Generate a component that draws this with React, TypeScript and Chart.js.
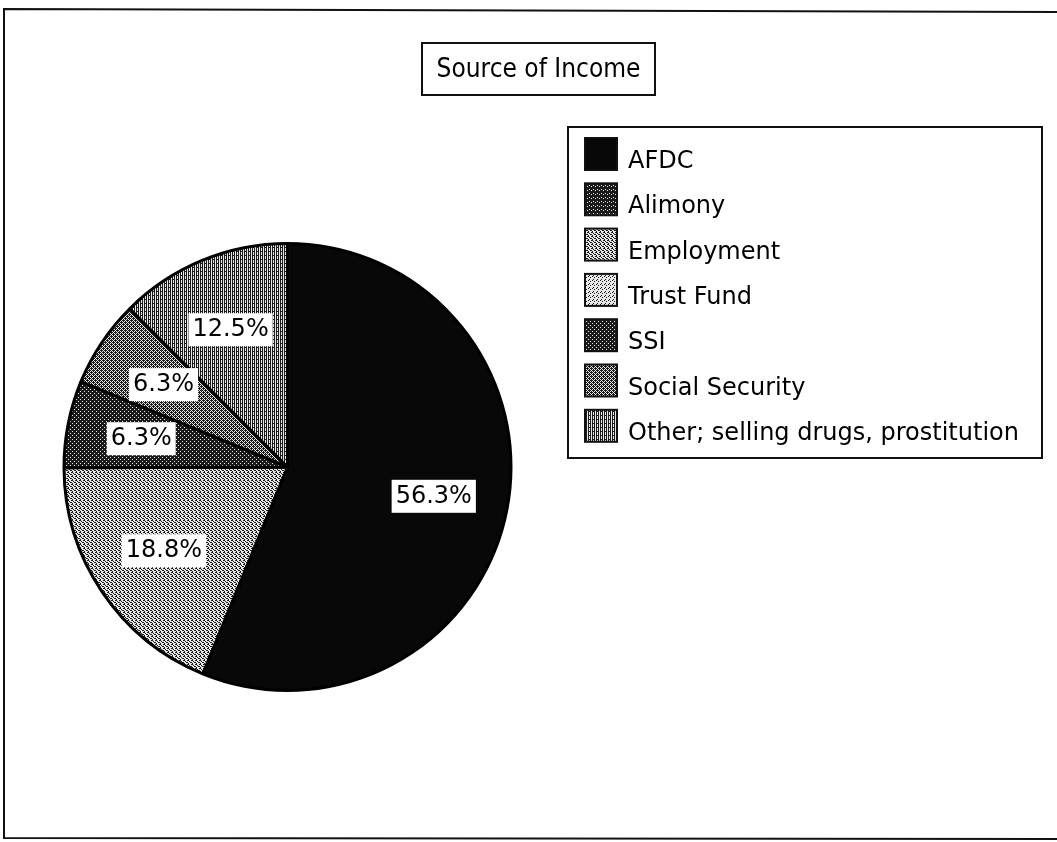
import React, { useEffect, useRef } from "react";
import { Chart, registerables } from "chart.js";

Chart.register(...registerables);

// ---- data ----
const categories = [
  "AFDC",
  "Alimony",
  "Employment",
  "Trust Fund",
  "SSI",
  "Social Security",
  "Other; selling drugs, prostitution",
];
const shares = [56.3, 0, 18.8, 0, 6.3, 6.3, 12.5];
const titleText = "Source of Income";

// ---- styles (fill textures, 1 = dark pixel) ----
const textureTiles: (string[] | null)[] = [
  null, // solid black
  ["1111", "1011", "1110", "1111"],
  ["1001", "0100", "0011", "1000"],
  ["1000", "0010", "0000", "0100"],
  ["1111", "1101", "1111", "0111"],
  ["1011", "0101", "1110", "0101"],
  ["1010", "1010", "1010", "1110"],
];

const FONT = "'DejaVu Sans', 'Noto Sans', sans-serif";

function makeFill(ctx: CanvasRenderingContext2D, rows: string[] | null): any {
  if (!rows) return "#080808";
  const c = document.createElement("canvas");
  c.width = rows[0].length;
  c.height = rows.length;
  const g = c.getContext("2d")!;
  for (let y = 0; y < rows.length; y++) {
    for (let x = 0; x < rows[y].length; x++) {
      g.fillStyle = rows[y][x] === "1" ? "#1a1a1a" : "#e8e8e8";
      g.fillRect(x, y, 1, 1);
    }
  }
  return ctx.createPattern(c, "repeat");
}

const decorPlugin = {
  id: "decor",
  beforeDraw(chart: any) {
    const ctx: CanvasRenderingContext2D = chart.ctx;
    const W = chart.width;
    const H = chart.height;
    ctx.save();
    ctx.fillStyle = "#ffffff";
    ctx.fillRect(0, 0, W, H);
    // outer frame
    ctx.strokeStyle = "#111";
    ctx.lineWidth = 2;
    ctx.beginPath();
    ctx.moveTo(W, 12);
    ctx.lineTo(4, 9);
    ctx.lineTo(4, 838);
    ctx.lineTo(W, 839);
    ctx.stroke();
    // title box
    ctx.lineWidth = 2;
    ctx.strokeRect(422, 43, 233, 52);
    ctx.fillStyle = "#000";
    ctx.font = `26px ${FONT}`;
    ctx.textAlign = "center";
    ctx.textBaseline = "middle";
    ctx.translate(538.5, 70);
    ctx.scale(0.9, 1);
    ctx.fillText(titleText, 0, 0);
    ctx.restore();
  },
  afterDatasetsDraw(chart: any) {
    const ctx: CanvasRenderingContext2D = chart.ctx;
    const meta = chart.getDatasetMeta(0);
    const values = chart.data.datasets[0].data as number[];
    ctx.save();
    ctx.font = `24px ${FONT}`;
    ctx.textAlign = "center";
    ctx.textBaseline = "middle";
    meta.data.forEach((arc: any, i: number) => {
      const v = values[i];
      if (!v) return;
      const p = arc.getProps(["x", "y", "startAngle", "endAngle", "outerRadius"], true);
      const mid = (p.startAngle + p.endAngle) / 2;
      const r = p.outerRadius * 0.667;
      const x = p.x + Math.cos(mid) * r;
      const y = p.y + Math.sin(mid) * r;
      const txt = `${v.toFixed(1)}%`;
      const w = ctx.measureText(txt).width + 8;
      ctx.fillStyle = "#ffffff";
      ctx.fillRect(x - w / 2, y - 16, w, 33);
      ctx.fillStyle = "#000";
      ctx.fillText(txt, x, y + 1);
    });
    ctx.restore();
  },
  afterDraw(chart: any) {
    const ctx: CanvasRenderingContext2D = chart.ctx;
    const fills = chart.data.datasets[0].backgroundColor as any[];
    const labels = chart.data.labels as string[];
    ctx.save();
    ctx.strokeStyle = "#111";
    ctx.lineWidth = 2;
    ctx.strokeRect(568, 127, 474, 331);
    ctx.font = `24px ${FONT}`;
    ctx.textAlign = "left";
    ctx.textBaseline = "alphabetic";
    labels.forEach((lab, i) => {
      const top = 138 + i * 45.3;
      ctx.fillStyle = fills[i];
      ctx.fillRect(585, top, 32, 32);
      ctx.lineWidth = 2;
      ctx.strokeRect(585, top, 32, 32);
      ctx.fillStyle = "#000";
      ctx.fillText(lab, 628, top + 30);
    });
    ctx.restore();
  },
};

export default function App() {
  const ref = useRef<HTMLCanvasElement | null>(null);

  useEffect(() => {
    const canvas = ref.current!;
    const ctx = canvas.getContext("2d")!;
    const fills = textureTiles.map((t) => makeFill(ctx, t));
    const chart = new Chart(canvas, {
      type: "pie",
      data: {
        labels: categories,
        datasets: [
          {
            data: shares,
            backgroundColor: fills,
            borderColor: "#000",
            borderWidth: 3,
          },
        ],
      },
      options: {
        animation: false,
        responsive: false,
        events: [],
        layout: { padding: { left: 62, right: 544, top: 242, bottom: 150 } },
        plugins: {
          legend: { display: false },
          tooltip: { enabled: false },
          title: { display: false },
        },
      },
      plugins: [decorPlugin],
    });
    return () => chart.destroy();
  }, []);

  return (
    <div style={{ position: "absolute", left: 0, top: 0, width: 1057, height: 842, background: "#fff" }}>
      <canvas ref={ref} width={1057} height={842} style={{ display: "block" }} />
    </div>
  );
}
